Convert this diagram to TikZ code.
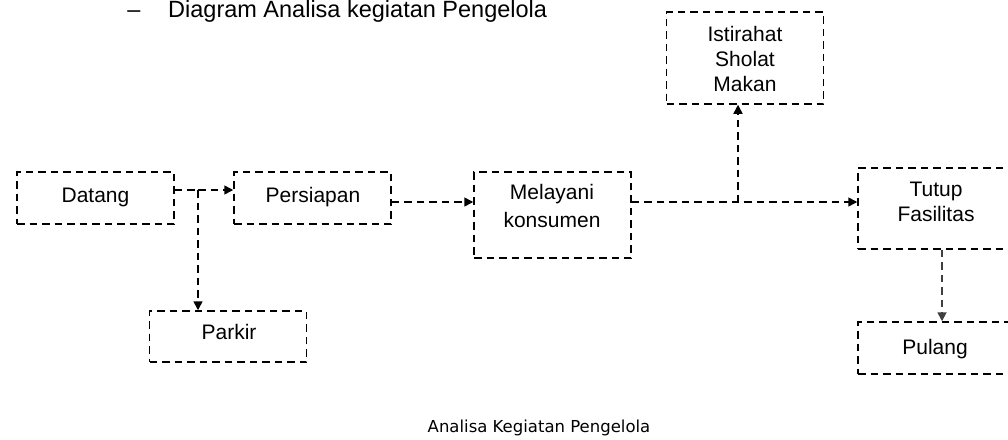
\documentclass[tikz,border=0pt]{standalone}
\usepackage{fontspec}
\setmainfont{Liberation Sans}
\newfontfamily\capfont{DejaVu Sans}
\usetikzlibrary{arrows.meta}
\begin{document}
\begin{tikzpicture}[x=1pt,y=-1pt,
  box/.style={draw=black, line width=1.5pt, dash pattern=on 7.5pt off 5pt,
              rectangle, inner sep=0pt, minimum width=157pt},
  boxtext/.style={inner sep=0pt, align=center, font=\fontsize{21}{25}\selectfont},
  link/.style={draw=black, line width=1.5pt, dash pattern=on 7.5pt off 5pt},
  arrow/.style={link, -{Triangle[length=9pt,width=9pt]}}]
\useasboundingbox (0,0) rectangle (1008,439);
\clip (0,0) rectangle (1008,439);

% heading
\node[anchor=base, inner sep=0pt, font=\fontsize{23.5}{28}\selectfont] (dash) at (134,17) {–};
\node[anchor=base west, inner sep=0pt, font=\fontsize{23.5}{28}\selectfont] (heading) at (168,17) {Diagram Analisa kegiatan Pengelola};

% activity boxes
\node[box, minimum height=52pt] (datang) at (95.5,198) {};
\node[box, minimum height=52pt] (persiapan) at (312.5,198) {};
\node[box, minimum height=51pt] (parkir) at (228,336.5) {};
\node[box, minimum height=86pt] (melayani) at (552.5,215) {};
\node[box, minimum height=92pt] (istirahat) at (745,58) {};
\node[box, minimum height=81pt] (tutup) at (936.5,208.5) {};
\node[box, minimum height=52pt] (pulang) at (936.5,348) {};

% box texts
\node[boxtext, anchor=base] (tdatang) at (95.5,202) {Datang};
\node[boxtext, anchor=base] (tpersiapan) at (313,202) {Persiapan};
\node[boxtext, anchor=base] (tparkir) at (229,339) {Parkir};
\node[boxtext, anchor=north, font=\fontsize{21}{28}\selectfont] (tmelayani) at (552,184.5) {Melayani\\konsumen};
\node[boxtext, anchor=north] (tistirahat) at (745,26) {Istirahat\\Sholat\\Makan};
\node[boxtext, anchor=north] (ttutup) at (936,182) {Tutup\\Fasilitas};
\node[boxtext, anchor=base] (tpulang) at (935,354) {Pulang};

% junctions
\coordinate (dj) at (198,190);
\coordinate (mj) at (738,202);
\coordinate (tj) at (942,0);

% connectors
\draw[link] (datang.east |- dj) -- (dj);
\draw[arrow] (dj) -- (parkir.north -| dj);
\draw[arrow] (dj) -- (persiapan.west |- dj);
\draw[arrow] (persiapan.east |- mj) -- (melayani.west |- mj);
\draw[arrow] (melayani.east |- mj) -- (tutup.west |- mj);
\draw[arrow] (mj) -- (istirahat.south -| mj);
\draw[arrow, draw=black!75, line width=1.8pt] (tutup.south -| tj) -- (pulang.north -| tj);

% caption
\node[anchor=base, inner sep=0pt, font=\capfont\fontsize{16.5}{20}\selectfont] (caption) at (539,432) {Analisa Kegiatan Pengelola};
\end{tikzpicture}
\end{document}
